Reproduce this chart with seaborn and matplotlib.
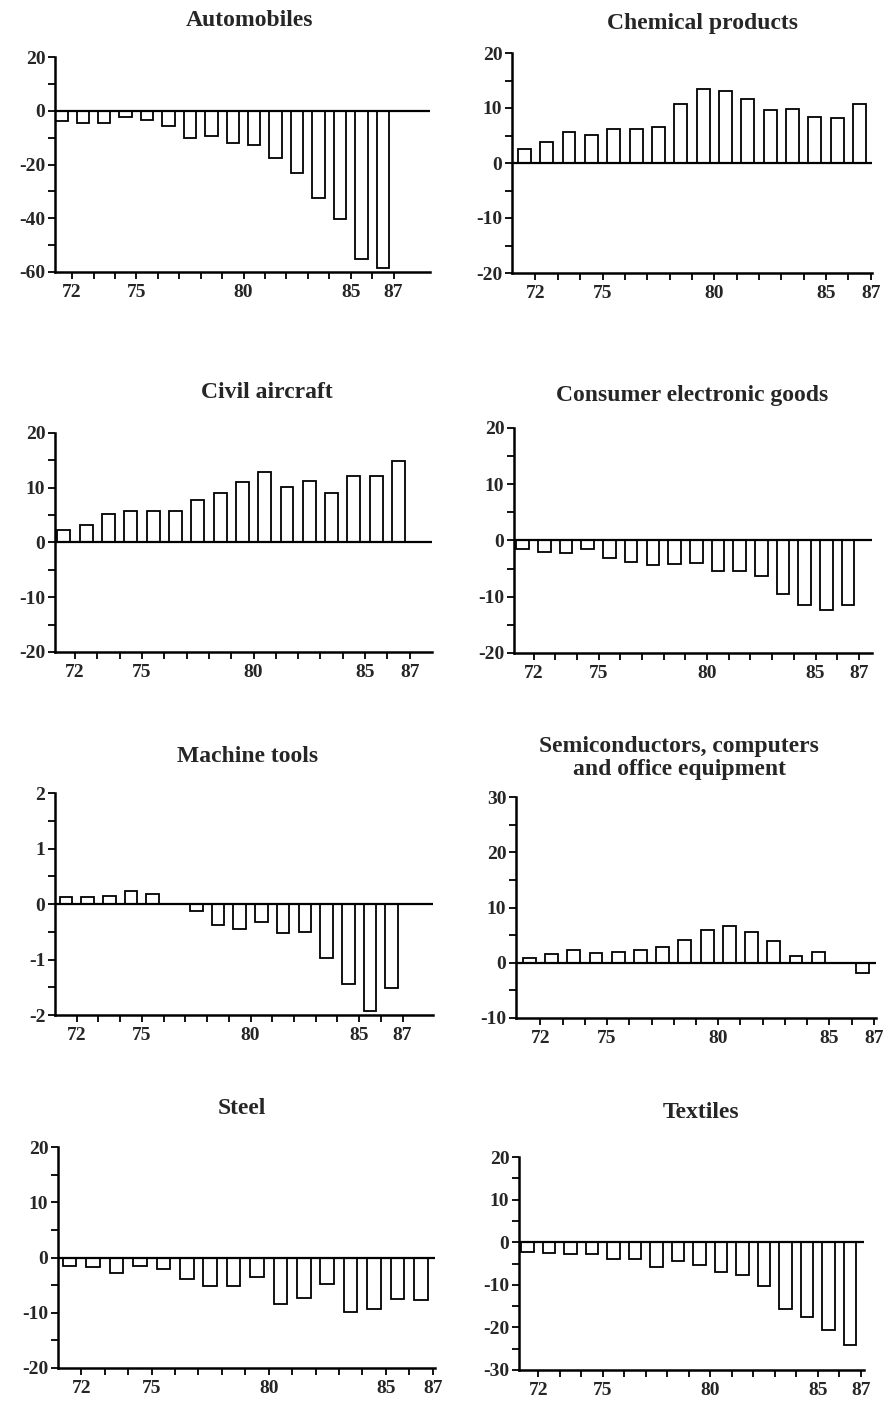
# necessary imports
import numpy as np
import pandas as pd
import seaborn as sns
import matplotlib.pyplot as plt
from matplotlib.ticker import MultipleLocator

sns.set_style('white')

# serif font like the scanned original, plain hyphen for negatives
plt.rcParams['font.family'] = ['Liberation Serif', 'DejaVu Serif']
plt.rcParams['font.weight'] = 'bold'
plt.rcParams['axes.unicode_minus'] = False

# years shown on the x axis (19xx)
years = list(range(72, 88))
year_labels = ['72', '75', '80', '85', '87']

# trade balance values, one per year
automobiles = [-3.8, -4.4, -4.7, -2.5, -3.5, -5.6, -10.0, -9.4, -11.9, -12.8,
               -17.5, -23.0, -32.5, -40.4, -55.0, -58.5]
chemical = [2.5, 3.9, 5.7, 5.1, 6.2, 6.2, 6.6, 10.7, 13.4, 13.1,
            11.6, 9.7, 9.8, 8.4, 8.2, 10.7]
civil_aircraft = [2.3, 3.2, 5.2, 5.8, 5.8, 5.8, 7.8, 9.1, 11.1, 12.8,
                  10.2, 11.2, 9.1, 12.2, 12.1, 14.8]
consumer_electronics = [-1.6, -2.1, -2.2, -1.5, -3.2, -3.8, -4.4, -4.1, -4.0, -5.5,
                        -5.5, -6.3, -9.6, -11.5, -12.4, -11.5]
machine_tools = [0.12, 0.12, 0.14, 0.23, 0.18, 0.0, -0.12, -0.37, -0.45, -0.33,
                 -0.52, -0.50, -0.98, -1.45, -1.92, -1.52]
semiconductors = [0.9, 1.5, 2.3, 1.7, 1.9, 2.3, 2.9, 4.1, 6.0, 6.6,
                  5.5, 3.9, 1.2, 1.9, 0.0, -1.9]
steel = [-1.6, -1.8, -2.8, -1.6, -2.0, -3.9, -5.2, -5.2, -3.6, -8.4,
         -7.4, -4.8, -9.8, -9.3, -7.5, -7.7]
textiles = [-2.4, -2.6, -2.8, -2.7, -3.9, -3.9, -5.9, -4.5, -5.3, -7.1,
            -7.7, -10.2, -15.7, -17.6, -20.5, -24.2]

W, H = 888, 1403

# panel layout in pixels: (title, values, ymin, ymax, major step,
#   axis left px, axis right px, axis top px, axis bottom px, xmin, xmax, title x, title y)
panels = [
    ('Automobiles', automobiles, -60, 20, 20, 55, 430, 57, 272, 71.2, 88.7, 250, 20),
    ('Chemical products', chemical, -20, 20, 10, 512, 872, 53, 273, 70.95, 87.06, 702, 24),
    ('Civil aircraft', civil_aircraft, -20, 20, 10, 55, 432, 433, 652, 71.1, 88.0, 267, 392),
    ('Consumer electronic goods', consumer_electronics, -20, 20, 10, 514, 872, 428, 653, 71.1, 87.6, 692, 395),
    ('Machine tools', machine_tools, -2, 2, 1, 55, 433, 793, 1015, 71.0, 88.4, 248, 756),
    ('Semiconductors, computers\nand office equipment', semiconductors, -10, 30, 10, 516, 876, 797, 1018, 70.9, 87.1, 679, 758),
    ('Steel', steel, -20, 20, 10, 58, 435, 1147, 1368, 71.0, 87.1, 242, 1109),
    ('Textiles', textiles, -30, 20, 10, 519, 864, 1157, 1370, 71.1, 87.15, 701, 1113),
]

fig = plt.figure(figsize=(W / 100, H / 100), dpi=100)
fig.patch.set_facecolor('white')


def draw_panel(title, values, ymin, ymax, step, left, right, top, bottom, xmin, xmax, tx, ty):
    # pixel box -> figure fraction
    ax = fig.add_axes([left / W, 1 - bottom / H, (right - left) / W, (bottom - top) / H])

    # bars sit just left of their year tick
    df = pd.DataFrame({'pos': [y - 0.5 for y in years], 'value': values})
    sns.barplot(data=df, x='pos', y='value', native_scale=True, width=0.58,
                color='white', edgecolor='black', linewidth=1.3,
                errorbar=None, ax=ax)

    ax.axhline(0, color='black', linewidth=1.6, zorder=3)

    ax.set_xlim(xmin, xmax)
    ax.set_ylim(ymin, ymax)

    # year ticks, only some labelled
    ax.set_xticks(years)
    ax.set_xticklabels([str(y) if str(y) in year_labels else '' for y in years])
    ax.yaxis.set_major_locator(MultipleLocator(step))
    ax.yaxis.set_minor_locator(MultipleLocator(step / 2))

    ax.tick_params(axis='both', which='both', direction='out', color='black',
                   width=1.3, labelsize=14, length=5, left=True, bottom=True)
    ax.tick_params(axis='y', pad=2)

    for side in ['top', 'right']:
        ax.spines[side].set_visible(False)
    for side in ['left', 'bottom']:
        ax.spines[side].set_color('black')
        ax.spines[side].set_linewidth(1.8)

    ax.set_xlabel('')
    ax.set_ylabel('')
    ax.set_facecolor('white')

    fig.text(tx / W, 1 - ty / H, title, ha='center', va='center',
             fontsize=17, fontweight='bold', linespacing=1.1)
    return ax


for spec in panels:
    draw_panel(*spec)

fig.savefig('out.png', dpi=100)
